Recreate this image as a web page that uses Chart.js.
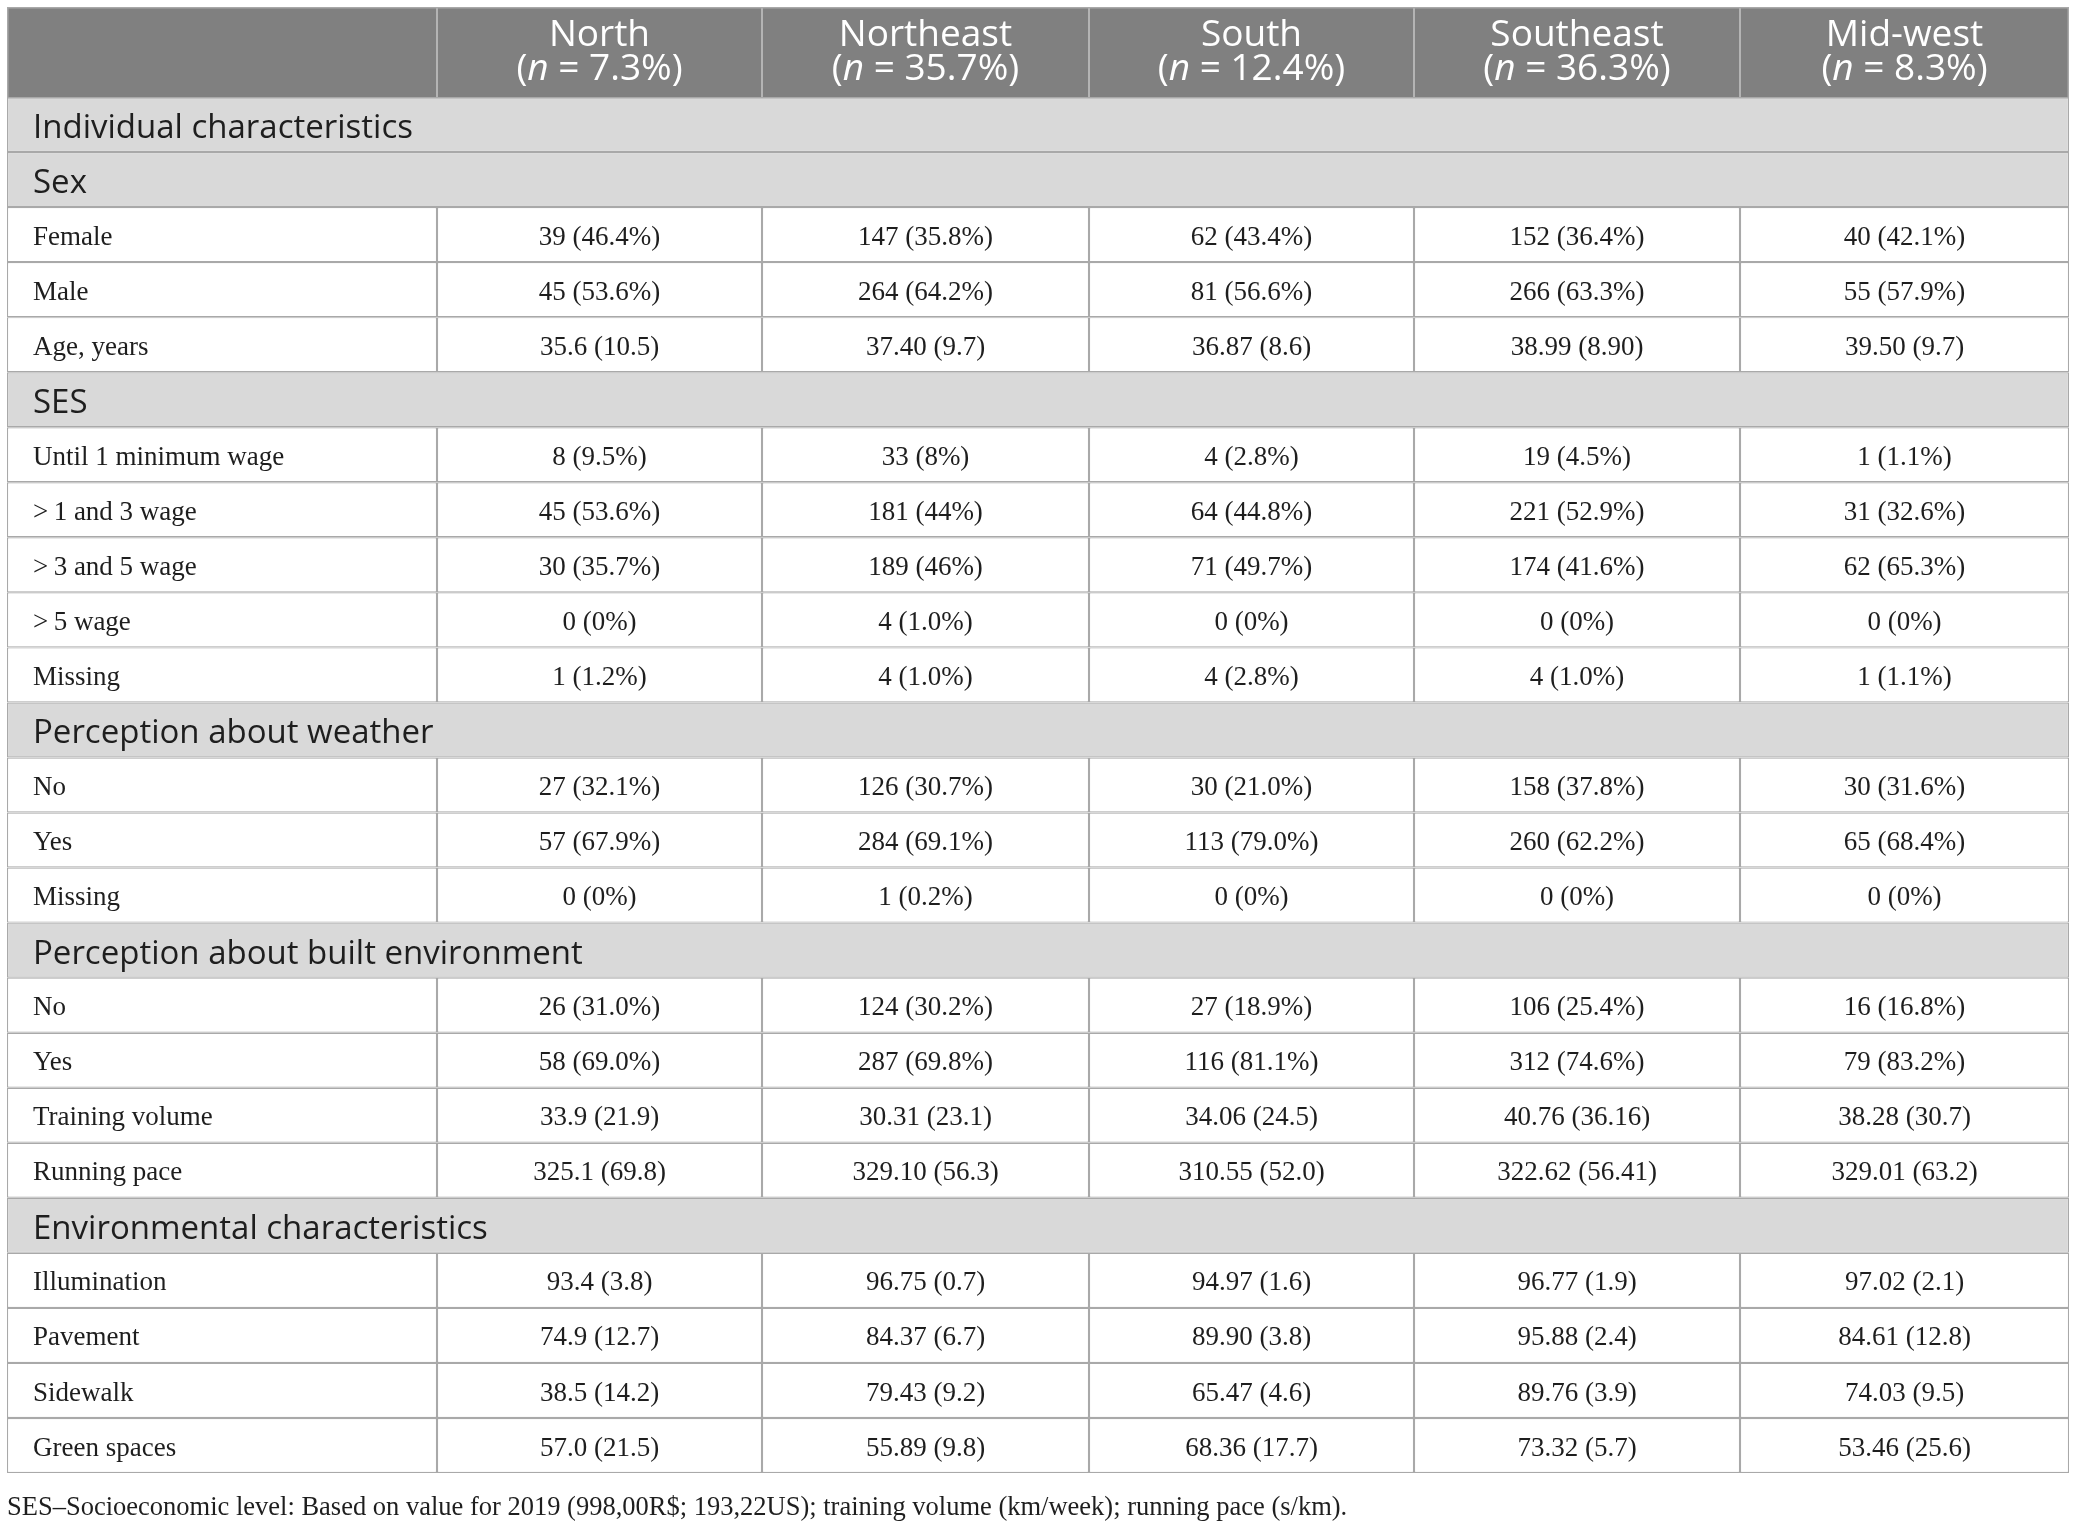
<!DOCTYPE html>
<html>
<head>
<meta charset="utf-8">
<title>Regional characteristics</title>
<script src="https://cdn.jsdelivr.net/npm/chart.js@4.4.1/dist/chart.umd.min.js"></script>
<style>
  html, body { margin: 0; padding: 0; background: #fff; }
  #wrap { width: 2078px; height: 1527px; }
</style>
</head>
<body>
<div id="wrap"><canvas id="tableChart" width="2078" height="1527"></canvas></div>
<script>
// --- table content ---
const regions = ["North", "Northeast", "South", "Southeast", "Mid-west"];
const regionShares = ["7.3%", "35.7%", "12.4%", "36.3%", "8.3%"];

const sectionRows = [
  "Individual characteristics", "Sex", "SES",
  "Perception about weather", "Perception about built environment",
  "Environmental characteristics"
];

const rowLabels = [
  "Individual characteristics", "Sex", "Female", "Male", "Age, years",
  "SES", "Until 1 minimum wage", ">\u20091 and 3 wage", ">\u20093 and 5 wage", ">\u20095 wage", "Missing",
  "Perception about weather", "No", "Yes", "Missing",
  "Perception about built environment", "No", "Yes", "Training volume", "Running pace",
  "Environmental characteristics", "Illumination", "Pavement", "Sidewalk", "Green spaces"
];

const north = [
  null, null, "39 (46.4%)", "45 (53.6%)", "35.6 (10.5)",
  null, "8 (9.5%)", "45 (53.6%)", "30 (35.7%)", "0 (0%)", "1 (1.2%)",
  null, "27 (32.1%)", "57 (67.9%)", "0 (0%)",
  null, "26 (31.0%)", "58 (69.0%)", "33.9 (21.9)", "325.1 (69.8)",
  null, "93.4 (3.8)", "74.9 (12.7)", "38.5 (14.2)", "57.0 (21.5)"
];
const northeast = [
  null, null, "147 (35.8%)", "264 (64.2%)", "37.40 (9.7)",
  null, "33 (8%)", "181 (44%)", "189 (46%)", "4 (1.0%)", "4 (1.0%)",
  null, "126 (30.7%)", "284 (69.1%)", "1 (0.2%)",
  null, "124 (30.2%)", "287 (69.8%)", "30.31 (23.1)", "329.10 (56.3)",
  null, "96.75 (0.7)", "84.37 (6.7)", "79.43 (9.2)", "55.89 (9.8)"
];
const south = [
  null, null, "62 (43.4%)", "81 (56.6%)", "36.87 (8.6)",
  null, "4 (2.8%)", "64 (44.8%)", "71 (49.7%)", "0 (0%)", "4 (2.8%)",
  null, "30 (21.0%)", "113 (79.0%)", "0 (0%)",
  null, "27 (18.9%)", "116 (81.1%)", "34.06 (24.5)", "310.55 (52.0)",
  null, "94.97 (1.6)", "89.90 (3.8)", "65.47 (4.6)", "68.36 (17.7)"
];
const southeast = [
  null, null, "152 (36.4%)", "266 (63.3%)", "38.99 (8.90)",
  null, "19 (4.5%)", "221 (52.9%)", "174 (41.6%)", "0 (0%)", "4 (1.0%)",
  null, "158 (37.8%)", "260 (62.2%)", "0 (0%)",
  null, "106 (25.4%)", "312 (74.6%)", "40.76 (36.16)", "322.62 (56.41)",
  null, "96.77 (1.9)", "95.88 (2.4)", "89.76 (3.9)", "73.32 (5.7)"
];
const midwest = [
  null, null, "40 (42.1%)", "55 (57.9%)", "39.50 (9.7)",
  null, "1 (1.1%)", "31 (32.6%)", "62 (65.3%)", "0 (0%)", "1 (1.1%)",
  null, "30 (31.6%)", "65 (68.4%)", "0 (0%)",
  null, "16 (16.8%)", "79 (83.2%)", "38.28 (30.7)", "329.01 (63.2)",
  null, "97.02 (2.1)", "84.61 (12.8)", "74.03 (9.5)", "53.46 (25.6)"
];

const footnote = "SES\u2013Socioeconomic level: Based on value for 2019 (998,00R$; 193,22US); training volume (km/week); running pace (s/km).";

// --- layout ---
const regionValues = [north, northeast, south, southeast, midwest];
const colWidths = [430, 325, 327, 325, 326, 329];
const edges = colWidths.reduce((acc, w) => { acc.push(acc[acc.length - 1] + w); return acc; }, [0]);
const tableWidth = edges[edges.length - 1];
const isSection = rowLabels.map(l => sectionRows.includes(l));

const BORDER = "#a9a9a9";
const HEADER_BG = "#808080";
const SECTION_BG = "#d9d9d9";
const TEXT = "#1e1e1e";
const SANS = '"Open Sans", "Noto Sans", sans-serif';
const SERIF = '"Liberation Serif", "DejaVu Serif", serif';

const datasets = [{
  label: "sections",
  data: rowLabels.map((l, i) => isSection[i] ? [0, tableWidth] : null),
  backgroundColor: SECTION_BG
}];
colWidths.forEach((w, c) => {
  datasets.push({
    label: "col" + c,
    data: rowLabels.map((l, i) => isSection[i] ? null : [edges[c], edges[c + 1]]),
    backgroundColor: "#ffffff"
  });
});

const tableText = {
  id: "tableText",
  afterDraw(chart) {
    const { ctx, scales: { x, y } } = chart;
    const left = x.getPixelForValue(0);
    const right = x.getPixelForValue(tableWidth);
    const colCenter = c => (x.getPixelForValue(edges[c]) + x.getPixelForValue(edges[c + 1])) / 2;
    ctx.save();

    // header band sits in the top x-axis box
    ctx.fillStyle = HEADER_BG;
    ctx.fillRect(left, x.top, right - left, x.bottom - x.top);
    ctx.strokeStyle = "#b4b4b4";
    ctx.lineWidth = 2;
    for (let c = 1; c < edges.length - 1; c++) {
      const px = x.getPixelForValue(edges[c]);
      ctx.beginPath(); ctx.moveTo(px, x.top); ctx.lineTo(px, x.bottom); ctx.stroke();
    }
    ctx.strokeStyle = BORDER;
    ctx.lineWidth = 1.5;
    ctx.strokeRect(left + 0.75, x.top + 0.75, right - left - 1.5, x.bottom - x.top);

    ctx.fillStyle = "#ffffff";
    ctx.textBaseline = "middle";
    regions.forEach((r, i) => {
      const cx = colCenter(i + 1);
      ctx.font = "37px " + SANS;
      ctx.textAlign = "center";
      ctx.fillText(r, cx, x.top + 28);
      const parts = [["(", "37px " + SANS], ["n", "italic 37px " + SANS], [" = " + regionShares[i] + ")", "37px " + SANS]];
      let total = 0;
      parts.forEach(p => { ctx.font = p[1]; total += ctx.measureText(p[0]).width; });
      let px = cx - total / 2;
      ctx.textAlign = "left";
      parts.forEach(p => { ctx.font = p[1]; ctx.fillText(p[0], px, x.top + 62); px += ctx.measureText(p[0]).width; });
    });

    // body text
    ctx.fillStyle = TEXT;
    rowLabels.forEach((label, i) => {
      const py = y.getPixelForValue(i);
      ctx.textAlign = "left";
      if (isSection[i]) {
        ctx.font = "33px " + SANS;
        ctx.fillText(label, left + 26, py + 4);
        return;
      }
      ctx.font = "27px " + SERIF;
      ctx.fillText(label, left + 26, py + 3);
      ctx.textAlign = "center";
      regionValues.forEach((vals, c) => {
        if (vals[i] != null) ctx.fillText(vals[i], colCenter(c + 1), py + 3);
      });
    });

    // footnote under the table
    ctx.font = "26.5px " + SERIF;
    ctx.textAlign = "left";
    ctx.fillText(footnote, left, chart.chartArea.bottom + 35);
    ctx.restore();
  }
};

new Chart(document.getElementById("tableChart"), {
  type: "bar",
  data: { labels: rowLabels, datasets: datasets },
  options: {
    indexAxis: "y",
    responsive: false,
    animation: false,
    layout: { padding: { left: 7, right: 9, top: 7, bottom: 54 } },
    plugins: { legend: { display: false }, tooltip: { enabled: false } },
    datasets: {
      bar: {
        grouped: false,
        barPercentage: 1,
        categoryPercentage: 1,
        borderSkipped: false,
        borderWidth: 1.2,
        borderColor: BORDER,
        inflateAmount: 0
      }
    },
    scales: {
      x: {
        type: "linear",
        position: "top",
        min: 0,
        max: tableWidth,
        grid: { display: false },
        border: { display: false },
        ticks: { display: false },
        afterFit: s => { s.height = 90; }
      },
      y: {
        type: "category",
        display: false
      }
    }
  },
  plugins: [tableText]
});
</script>
</body>
</html>
